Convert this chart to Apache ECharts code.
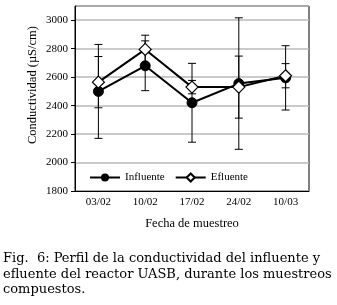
<!DOCTYPE html>
<html>
<head>
<meta charset="utf-8">
<script src="https://cdn.jsdelivr.net/npm/echarts@6/dist/echarts.min.js"></script>
<style>
  html, body { margin: 0; padding: 0; background: #fff; }
  #chart { width: 337px; height: 305px; }
</style>
</head>
<body>
<div id="chart"></div>
<script>
// datos
var fechas = ['03/02', '10/02', '17/02', '24/02', '10/03'];
var influente = [2500, 2680, 2420, 2555, 2595];
var influenteErr = [330, 175, 277, 462, 226];
var efluente = [2565, 2795, 2530, 2530, 2610];
var efluenteErr = [180, 100, 47, 218, 85];
var yMin = 1800;
var yMax = 3100;
var yStep = 200;

var serif = 'Liberation Serif';

// barras de error: [indice, valor, error]
function errData(vals, errs) {
  return vals.map(function (v, i) {
    return [i, v, errs[i]];
  });
}

function renderErr(params, api) {
  var i = api.value(0);
  var v = api.value(1);
  var e = api.value(2);
  var top = api.coord([i, v + e]);
  var bot = api.coord([i, v - e]);
  var w = 4;
  var st = { stroke: '#000', lineWidth: 1 };
  return {
    type: 'group',
    children: [
      { type: 'line', shape: { x1: top[0], y1: top[1], x2: bot[0], y2: bot[1] }, style: st },
      { type: 'line', shape: { x1: top[0] - w, y1: top[1], x2: top[0] + w, y2: top[1] }, style: st },
      { type: 'line', shape: { x1: bot[0] - w, y1: bot[1], x2: bot[0] + w, y2: bot[1] }, style: st }
    ]
  };
}

var chart = echarts.init(document.getElementById('chart'));
chart.setOption({
  animation: false,
  backgroundColor: '#fff',
  textStyle: { fontFamily: serif, color: '#000' },
  grid: {
    left: 75,
    right: 28,
    top: 6,
    bottom: 114,
    show: true,
    borderColor: '#000',
    borderWidth: 1
  },
  legend: {
    left: 84,
    top: 167,
    itemWidth: 30,
    itemHeight: 10,
    itemGap: 10,
    textStyle: { fontFamily: serif, fontSize: 11, color: '#000' },
    data: ['Influente', 'Efluente']
  },
  xAxis: {
    type: 'category',
    data: fechas,
    name: 'Fecha de muestreo',
    nameLocation: 'middle',
    nameGap: 26,
    nameTextStyle: { fontFamily: serif, fontSize: 12.5, color: '#000' },
    axisLine: { lineStyle: { color: '#000', width: 1 } },
    axisTick: { show: false },
    axisLabel: { fontFamily: serif, fontSize: 11, color: '#000', margin: 6 }
  },
  yAxis: {
    type: 'value',
    min: yMin,
    max: yMax,
    interval: yStep,
    axisLine: { show: true, lineStyle: { color: '#000', width: 1 } },
    axisTick: { show: true, length: 4, lineStyle: { color: '#000' } },
    axisLabel: {
      fontFamily: serif, fontSize: 11, color: '#000', margin: 7, showMaxLabel: false,
      formatter: function (v) { return String(v); }
    },
    splitLine: { show: true, lineStyle: { color: '#b8b8b8', width: 1.6 } }
  },
  graphic: [
    {
      type: 'text',
      x: 33,
      y: 85,
      rotation: Math.PI / 2,
      style: {
        text: 'Conductividad (µS/cm)',
        fontFamily: serif,
        fontSize: 12.5,
        fill: '#000',
        align: 'center',
        verticalAlign: 'middle'
      }
    },
    {
      type: 'text',
      left: 3,
      top: 251,
      style: {
        text: 'Fig.  6: Perfil de la conductividad del influente y\nefluente del reactor UASB, durante los muestreos\ncompuestos.',
        fontFamily: 'DejaVu Serif',
        fontSize: 13,
        lineHeight: 15.5,
        fill: '#000'
      }
    }
  ],
  series: [
    {
      type: 'custom',
      name: 'errInf',
      renderItem: renderErr,
      data: errData(influente, influenteErr),
      z: 1,
      silent: true
    },
    {
      type: 'custom',
      name: 'errEf',
      renderItem: renderErr,
      data: errData(efluente, efluenteErr),
      z: 1,
      silent: true
    },
    {
      name: 'Influente',
      type: 'line',
      data: influente,
      symbol: 'circle',
      symbolSize: 10,
      lineStyle: { color: '#000', width: 2 },
      itemStyle: { color: '#000', borderColor: '#000' },
      z: 3
    },
    {
      name: 'Efluente',
      type: 'line',
      data: efluente,
      symbol: 'diamond',
      symbolSize: 12,
      lineStyle: { color: '#000', width: 2 },
      itemStyle: { color: '#fff', borderColor: '#000', borderWidth: 1.2 },
      z: 4
    }
  ]
});
</script>
</body>
</html>
